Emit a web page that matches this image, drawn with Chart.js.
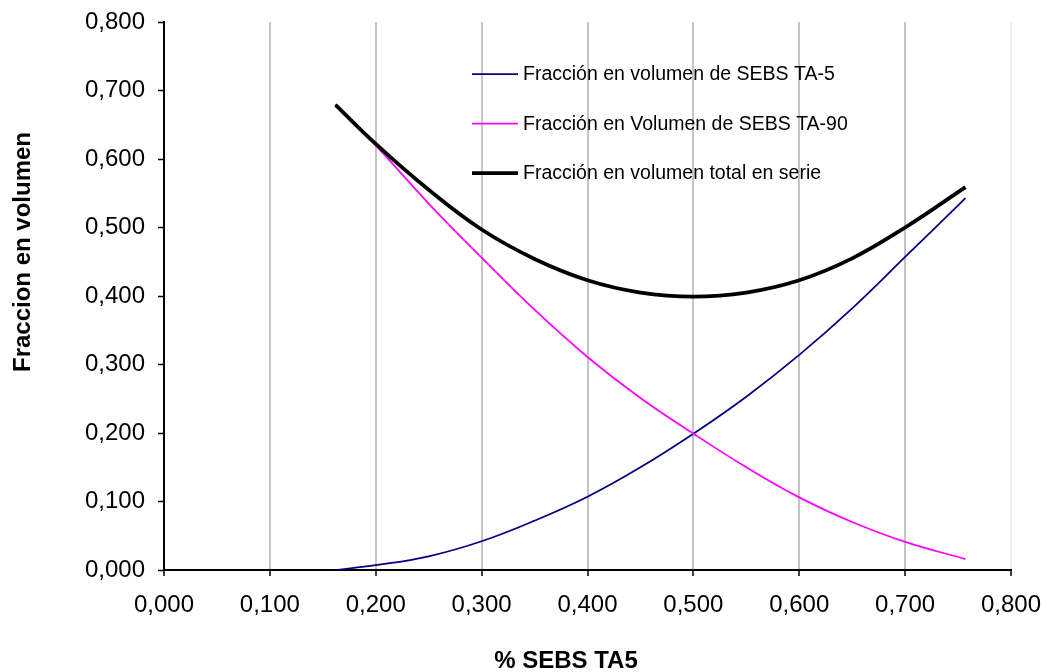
<!DOCTYPE html>
<html>
<head>
<meta charset="utf-8">
<title>Fracción en volumen vs % SEBS TA5</title>
<script src="https://cdn.jsdelivr.net/npm/chart.js@4"></script>
<style>
  html, body { margin: 0; padding: 0; background: #fff; }
  #wrap { width: 1047px; height: 672px; position: relative; }
</style>
</head>
<body>
<div id="wrap"><canvas id="chart"></canvas></div>
<script>
// Data
const sebsTA5 = [0.162, 0.200, 0.250, 0.300, 0.350, 0.400, 0.450, 0.500, 0.550, 0.600, 0.650, 0.700, 0.757];
const fracTA5 = [0.000, 0.007, 0.020, 0.042, 0.072, 0.107, 0.150, 0.199, 0.253, 0.314, 0.382, 0.457, 0.543];
const fracTA90 = [0.680, 0.620, 0.535, 0.456, 0.380, 0.311, 0.251, 0.199, 0.150, 0.106, 0.070, 0.041, 0.016];
const fracTotal = [0.679, 0.622, 0.555, 0.497, 0.454, 0.423, 0.405, 0.399, 0.405, 0.423, 0.455, 0.500, 0.559];

const seriesNames = [
  'Fracción en volumen de SEBS TA-5',
  'Fracción en Volumen de SEBS TA-90',
  'Fracción en volumen total en serie'
];
const xTitle = '% SEBS TA5';
const yTitle = 'Fraccion en volumen';

const FONT = '"Liberation Sans", Arial, sans-serif';

const toPoints = (ys) => sebsTA5.map((x, i) => ({ x: x, y: ys[i] }));
const fmt = (v) => Number(v).toFixed(3).replace('.', ',');

// Legend inside plot + axis titles, placed like the Excel original
const overlay = {
  id: 'overlay',
  afterDraw(chart) {
    const ctx = chart.ctx;
    ctx.save();
    ctx.textBaseline = 'middle';
    ctx.textAlign = 'left';
    ctx.font = '19.5px ' + FONT;
    chart.data.datasets.forEach((ds, i) => {
      const y = 74 + i * 49.5;
      ctx.beginPath();
      ctx.strokeStyle = ds.borderColor;
      ctx.lineWidth = ds.borderWidth;
      ctx.moveTo(472, y);
      ctx.lineTo(518, y);
      ctx.stroke();
      ctx.fillStyle = '#000';
      ctx.fillText(ds.label, 523, y + 1);
    });

    ctx.font = 'bold 24px ' + FONT;
    ctx.textAlign = 'center';
    ctx.fillText(xTitle, 566, 661);
    ctx.translate(23, 252);
    ctx.rotate(-Math.PI / 2);
    ctx.fillText(yTitle, 0, 0);
    ctx.restore();
  }
};

new Chart(document.getElementById('chart'), {
  type: 'scatter',
  data: {
    datasets: [
      {
        label: seriesNames[0],
        data: toPoints(fracTA5),
        borderColor: '#000080',
        borderWidth: 1.75,
        showLine: true,
        pointRadius: 0,
        tension: 0.4,
        order: 2
      },
      {
        label: seriesNames[1],
        data: toPoints(fracTA90),
        borderColor: '#ff00ff',
        borderWidth: 1.75,
        showLine: true,
        pointRadius: 0,
        tension: 0.4,
        order: 1
      },
      {
        label: seriesNames[2],
        data: toPoints(fracTotal),
        borderColor: '#000000',
        borderWidth: 3.75,
        showLine: true,
        pointRadius: 0,
        tension: 0.4,
        order: 0
      }
    ]
  },
  options: {
    responsive: true,
    maintainAspectRatio: false,
    animation: false,
    layout: {
      padding: { top: 22, right: 36, left: 0, bottom: 0 }
    },
    plugins: {
      legend: { display: false },
      tooltip: { enabled: false }
    },
    scales: {
      x: {
        type: 'linear',
        min: 0,
        max: 0.8,
        afterFit: (scale) => {
          scale.height = 102;
          scale.paddingLeft = 0;
          scale.paddingRight = 0;
        },
        grid: {
          color: (c) => c.index === 0 ? 'rgba(0,0,0,0)' : (c.index === 8 ? '#eeeeee' : '#c4c4c4'),
          lineWidth: 2,
          tickColor: '#000',
          tickWidth: 1.5,
          tickLength: 6
        },
        border: { color: '#000', width: 2 },
        ticks: {
          stepSize: 0.1,
          color: '#000',
          padding: 15,
          maxRotation: 0,
          font: { family: FONT, size: 24 },
          callback: (v) => fmt(v)
        }
      },
      y: {
        min: 0,
        max: 0.8,
        afterFit: (scale) => {
          scale.width = 164;
          scale.paddingTop = 0;
          scale.paddingBottom = 0;
        },
        grid: {
          drawOnChartArea: false,
          tickColor: '#000',
          tickWidth: 1.5,
          tickLength: 6
        },
        border: { color: '#000', width: 2 },
        ticks: {
          stepSize: 0.1,
          color: '#000',
          padding: 13,
          font: { family: FONT, size: 24 },
          callback: (v) => fmt(v)
        }
      }
    }
  },
  plugins: [overlay]
});
</script>
</body>
</html>
